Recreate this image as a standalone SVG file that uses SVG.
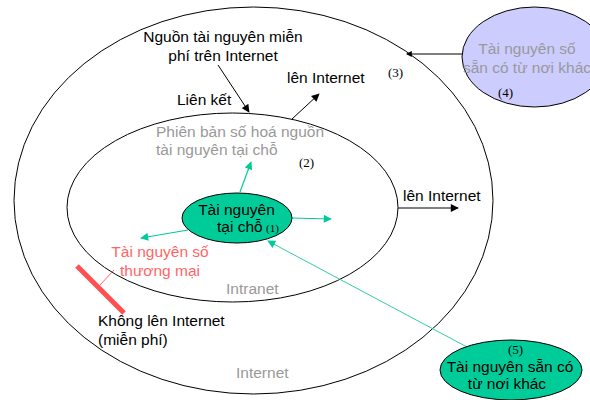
<svg xmlns="http://www.w3.org/2000/svg" width="590" height="400" viewBox="0 0 590 400">
<style>
text{font-family:"Liberation Sans",Arial,sans-serif;font-size:15.5px;fill:#000}
.g{fill:#999999}
.r{fill:#FF6666}
.n{font-family:"Liberation Serif","Times New Roman",serif;font-size:13px}
.ring{fill:none;stroke:#000;stroke-width:1}
.bk{stroke:#000;stroke-width:1;fill:none}
.tl{stroke:#00CC99;stroke-width:1.2;fill:none}
</style>
<defs>
<marker id="ab" viewBox="0 0 10 10" refX="9" refY="5" markerWidth="9" markerHeight="8" markerUnits="userSpaceOnUse" orient="auto"><path d="M0,0L10,5L0,10z" fill="#000"/></marker>
<marker id="as" viewBox="0 0 10 10" refX="8" refY="5" markerWidth="6" markerHeight="6" markerUnits="userSpaceOnUse" orient="auto"><path d="M0,0L10,5L0,10z" fill="#000"/></marker>
<marker id="at" viewBox="0 0 10 10" refX="9" refY="5" markerWidth="10" markerHeight="8" markerUnits="userSpaceOnUse" orient="auto"><path d="M0,0L10,5L0,10z" fill="#00CC99"/></marker>
</defs>
<rect width="590" height="400" fill="#fff"/>
<g id="internet">
<ellipse class="ring" cx="253.5" cy="200.5" rx="239.5" ry="193.5"/>
<text class="g" x="236" y="378">Internet</text>
<text class="n" x="388" y="77">(3)</text>
</g>
<g id="intranet">
<ellipse class="ring" cx="232.5" cy="207.5" rx="165.5" ry="94.5"/>
<text class="g" x="226" y="294">Intranet</text>
<text class="n" x="299" y="167">(2)</text>
</g>
<g id="connectors">
<line class="bk" x1="218" y1="65" x2="249" y2="112" marker-end="url(#ab)"/>
<line class="bk" x1="292" y1="119" x2="319" y2="94" marker-end="url(#ab)"/>
<line class="bk" x1="398" y1="208" x2="458" y2="208" marker-end="url(#ab)"/>
<line class="bk" x1="467" y1="54" x2="407" y2="54" marker-end="url(#as)"/>
<line class="tl" x1="240" y1="192" x2="251" y2="162" marker-end="url(#at)"/>
<line class="tl" x1="292" y1="218" x2="331" y2="219" marker-end="url(#at)"/>
<line class="tl" x1="188" y1="230" x2="141" y2="238" marker-end="url(#at)"/>
<line stroke="#33CCAA" stroke-width="1" x1="467" y1="347" x2="268" y2="241" marker-end="url(#at)"/>
<line stroke="#FF5050" stroke-width="5" x1="77" y1="266" x2="124" y2="313"/>
<line stroke="#FF6666" stroke-width="1" x1="100" y1="285" x2="114" y2="270"/>
</g>
<g id="free-resources">
<text x="223" y="42" text-anchor="middle">Nguồn tài nguyên miễn</text>
<text x="223" y="61" text-anchor="middle">phí trên Internet</text>
</g>
<g id="label-lien-ket"><text x="177" y="105">Liên kết</text></g>
<g id="label-len-internet-1"><text x="287" y="83">lên Internet</text></g>
<g id="label-len-internet-2"><text x="403" y="201">lên Internet</text></g>
<g id="digitized">
<text class="g" x="156" y="137">Phiên bản số hoá nguồn</text>
<text class="g" x="156" y="155">tài nguyên tại chỗ</text>
</g>
<g id="local">
<ellipse cx="237" cy="218" rx="55" ry="25" fill="#00CC99" stroke="#000" stroke-width="1"/>
<text x="236.5" y="215" text-anchor="middle">Tài nguyên</text>
<text x="217" y="232">tại chỗ</text>
<text class="n" x="266" y="232" style="font-size:11px">(1)</text>
</g>
<g id="commercial">
<text class="r" x="160" y="257" text-anchor="middle">Tài nguyên số</text>
<text class="r" x="160" y="276" text-anchor="middle">thương mại</text>
</g>
<g id="not-online">
<text x="98" y="326">Không lên Internet</text>
<text x="98" y="345">(miễn phí)</text>
</g>
<g id="other-digital">
<ellipse cx="534.5" cy="57" rx="72.5" ry="50" fill="#CCCCFF" stroke="#000" stroke-width="1"/>
<text class="g" x="527" y="54" text-anchor="middle">Tài nguyên số</text>
<text class="g" x="527" y="73" text-anchor="middle">sẵn có từ nơi khác</text>
<text class="n" x="498" y="97">(4)</text>
</g>
<g id="other-available">
<ellipse cx="511" cy="370" rx="71" ry="30" fill="#00CC99" stroke="#000" stroke-width="1"/>
<text class="n" x="508" y="354">(5)</text>
<text x="510" y="372" text-anchor="middle">Tài nguyên sẵn có</text>
<text x="507" y="389" text-anchor="middle">từ nơi khác</text>
</g>
</svg>
